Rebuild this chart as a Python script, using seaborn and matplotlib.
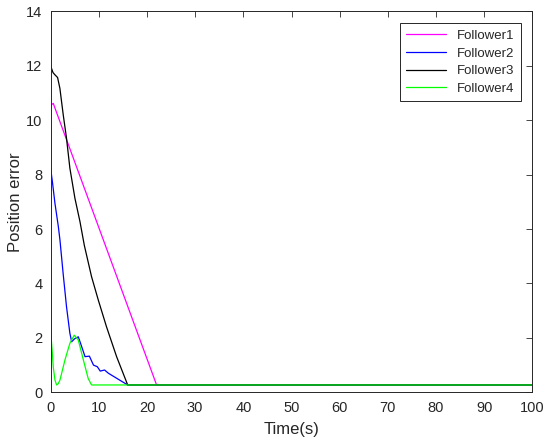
import numpy as np
import pandas as pd
import matplotlib
matplotlib.use("Agg")
import matplotlib.pyplot as plt
import seaborn as sns

# values
t_f1 = [0, 0.25, 0.55, 1.0, 22.0, 100]
e_f1 = [10.5, 10.58, 10.62, 10.40, 0.27, 0.27]

t_f2 = [0, 0.4, 0.9, 1.6, 1.94, 2.6, 3.3, 4.0, 4.37, 5.06, 5.75, 6.45, 7.15,
        8.05, 8.9, 9.7, 10.3, 11.2, 12.0, 16.0, 100]
e_f2 = [8.24, 7.7, 6.95, 6.1, 5.6, 4.37, 3.15, 2.17, 1.86, 1.98, 2.04, 1.68, 1.31,
        1.33, 1.0, 0.94, 0.78, 0.82, 0.7, 0.27, 0.27]

t_f3 = [0, 0.5, 0.9, 1.45, 1.93, 2.62, 3.3, 4.0, 5.05, 6.1, 7.0, 8.5, 9.9,
        11.6, 13.7, 16.0, 100]
e_f3 = [12.0, 11.75, 11.67, 11.57, 11.17, 10.2, 9.34, 8.24, 7.13, 6.27, 5.4, 4.25, 3.39,
        2.41, 1.31, 0.27, 0.27]

t_f4 = [0, 0.3, 0.55, 0.9, 1.25, 1.6, 1.94, 2.98, 4.0, 4.9, 5.75, 6.8, 7.8, 8.5, 100]
e_f4 = [2.23, 1.6, 0.94, 0.45, 0.27, 0.32, 0.45, 1.19, 1.8, 2.1, 1.92, 1.19, 0.51, 0.27, 0.27]

names = ["Follower1", "Follower2", "Follower3", "Follower4"]
colors = ["#ff00ff", "#0000ff", "#000000", "#00ff00"]

frames = []
for name, t, e in zip(names, [t_f1, t_f2, t_f3, t_f4], [e_f1, e_f2, e_f3, e_f4]):
    frames.append(pd.DataFrame({"time": t, "err": e, "who": name}))
df = pd.concat(frames, ignore_index=True)

sns.set_style("white")
plt.rcParams["font.family"] = ["Liberation Sans", "DejaVu Sans"]

fig = plt.figure(figsize=(5.5, 4.45), dpi=100)
ax = fig.add_axes([0.092, 0.1184, 0.876, 0.856])

sns.lineplot(data=df, x="time", y="err", hue="who", palette=colors,
             sort=False, estimator=None, linewidth=0.9, ax=ax)

ax.set_xlim(0, 100)
ax.set_ylim(0, 14)
ax.set_xticks(np.arange(0, 101, 10))
ax.set_yticks(np.arange(0, 15, 2))
ax.set_xlabel("Time(s)", fontsize=12, labelpad=5)
ax.set_ylabel("Position error", fontsize=12, labelpad=2)

for s in ax.spines.values():
    s.set_visible(True)
    s.set_color("#262626")
    s.set_linewidth(0.7)
ax.tick_params(direction="in", top=True, right=True, length=4, width=0.6,
               color="#262626", labelsize=10.5, labelcolor="#262626", pad=6)

leg = ax.legend(loc="upper right", fontsize=9.5, frameon=True, fancybox=False,
                edgecolor="#262626", framealpha=1, handlelength=3.0,
                labelspacing=0.4, borderaxespad=0.9, borderpad=0.5)
leg.get_frame().set_linewidth(0.7)
leg.set_title(None)

fig.savefig("out.png", dpi=100)
